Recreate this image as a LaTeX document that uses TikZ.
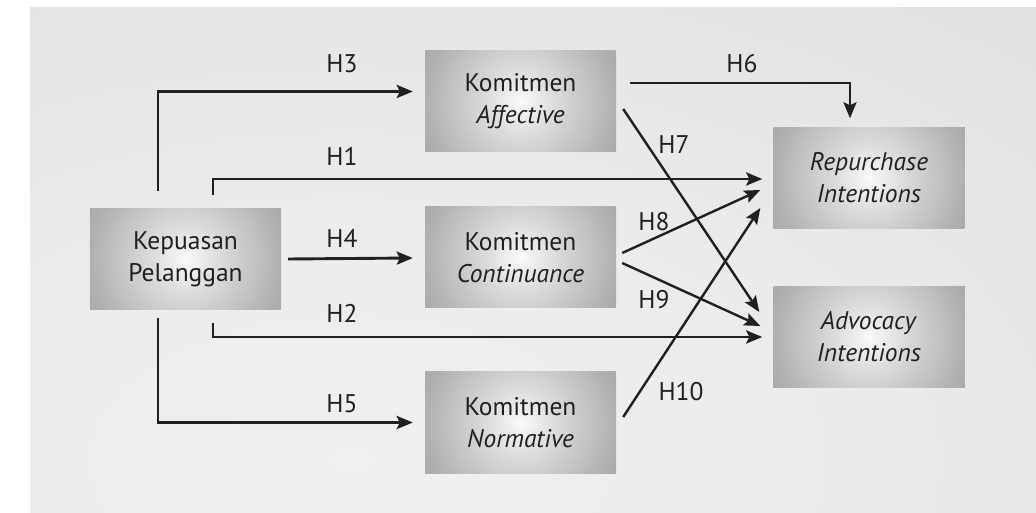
\documentclass[tikz,border=0pt]{standalone}
\usepackage{fontspec}
\setmainfont{PT Sans}
\usetikzlibrary{arrows.meta}

\definecolor{ink}{HTML}{231F20}

% soft light backdrop, brightest low on the left
\pgfdeclareradialshading{panelglow}{\pgfpoint{0bp}{0bp}}{%
  color(0bp)=(white!94!black);
  color(9bp)=(white!92.5!black);
  color(19bp)=(white!89!black);
  color(27.5bp)=(white!86!black);
  color(34.6bp)=(white!84!black);
  color(42bp)=(white!82.5!black);
  color(50bp)=(white!81!black)}

% bright centre fading to grey at the box corners
\pgfdeclareradialshading{boxglow}{\pgfpoint{0bp}{0bp}}{%
  color(0bp)=(white!98!black);
  color(8bp)=(white!86!black);
  color(22bp)=(white!69!black);
  color(44bp)=(white!52!black);
  color(50bp)=(white!47!black)}

\tikzset{
  txt/.style={text=ink, font=\fontsize{25.5bp}{32bp}\selectfont},
  box/.style={txt, minimum width=191bp, minimum height=101bp, inner sep=0pt,
    align=center, fill=white!55!black,
    path picture={\shade[shading=boxglow] (path picture bounding box.center)
      circle[radius=108bp];}},
  lab/.style={txt, inner sep=0pt},
  conn/.style={draw=ink, line width=2.9bp,
    -{Stealth[length=16bp,width=13bp,inset=3bp]}},
  diag/.style={conn, line width=2.4bp},
}

\begin{document}
\begin{tikzpicture}[x=1bp, y=-1bp]
\useasboundingbox (0,0) rectangle (1036,513);
\fill[white] (0,0) rectangle (1036,513);

% backdrop panel
\begin{scope}
  \clip (30,8) rectangle (1036,513);
  \shade[shading=panelglow] (350,460) ellipse[x radius=1260bp, y radius=700bp];
\end{scope}

% constructs
\node[box] (kep) at (185.5,259) {Kepuasan\\Pelanggan};
\node[box] (aff) at (520.5,101.5) {Komitmen\\\textit{Affective}};
\node[box] (con) at (520.5,257.5) {Komitmen\\\textit{Continuance}};
\node[box] (nor) at (520.5,422.5) {Komitmen\\\textit{Normative}};
\node[box] (rep) at (869,178) {\textit{Repurchase}\\\textit{Intentions}};
\node[box] (adv) at (869,337) {\textit{Advocacy}\\\textit{Intentions}};

% paths from satisfaction
\draw[conn] ([xshift=-27.5bp,yshift=17bp]kep.north) |- ([xshift=-12bp,yshift=10bp]aff.west);
\draw[conn] ([xshift=27.5bp,yshift=13bp]kep.north) |- ([xshift=-11bp,yshift=-1bp]rep.west);
\draw[conn] ([xshift=7bp]kep.east) -- ([xshift=-12bp,yshift=-0.5bp]con.west);
\draw[conn] ([xshift=27.5bp,yshift=-13bp]kep.south) |- ([xshift=-11bp]adv.west);
\draw[conn] ([xshift=-27.5bp,yshift=-8bp]kep.south) |- ([xshift=-12bp]nor.west);

% paths from commitment
\draw[conn, line width=2.6bp] ([xshift=14bp,yshift=18.5bp]aff.east) -| ([xshift=-19bp,yshift=9bp]rep.north);
\draw[diag] ([xshift=7bp,yshift=-7.5bp]aff.east) -- ([xshift=-14bp,yshift=25bp]adv.west);
\draw[diag] ([xshift=6bp,yshift=4.5bp]con.east) -- ([xshift=-13bp,yshift=-12bp]rep.west);
\draw[diag] ([xshift=6bp,yshift=-5.5bp]con.east) -- ([xshift=-13bp,yshift=11bp]adv.west);
\draw[diag] ([xshift=7bp,yshift=5.5bp]nor.east) -- ([xshift=-13bp,yshift=-30bp]rep.west);

% hypothesis labels
\node[lab] (h3) at (342,64) {H3};
\node[lab] (h1) at (342,156) {H1};
\node[lab] (h4) at (342,238) {H4};
\node[lab] (h2) at (342,313) {H2};
\node[lab] (h5) at (342,404) {H5};
\node[lab] (h6) at (742,64) {H6};
\node[lab] (h7) at (674,145) {H7};
\node[lab] (h8) at (654,222) {H8};
\node[lab] (h9) at (654,300) {H9};
\node[lab] (h10) at (681,392) {H10};
\end{tikzpicture}
\end{document}
